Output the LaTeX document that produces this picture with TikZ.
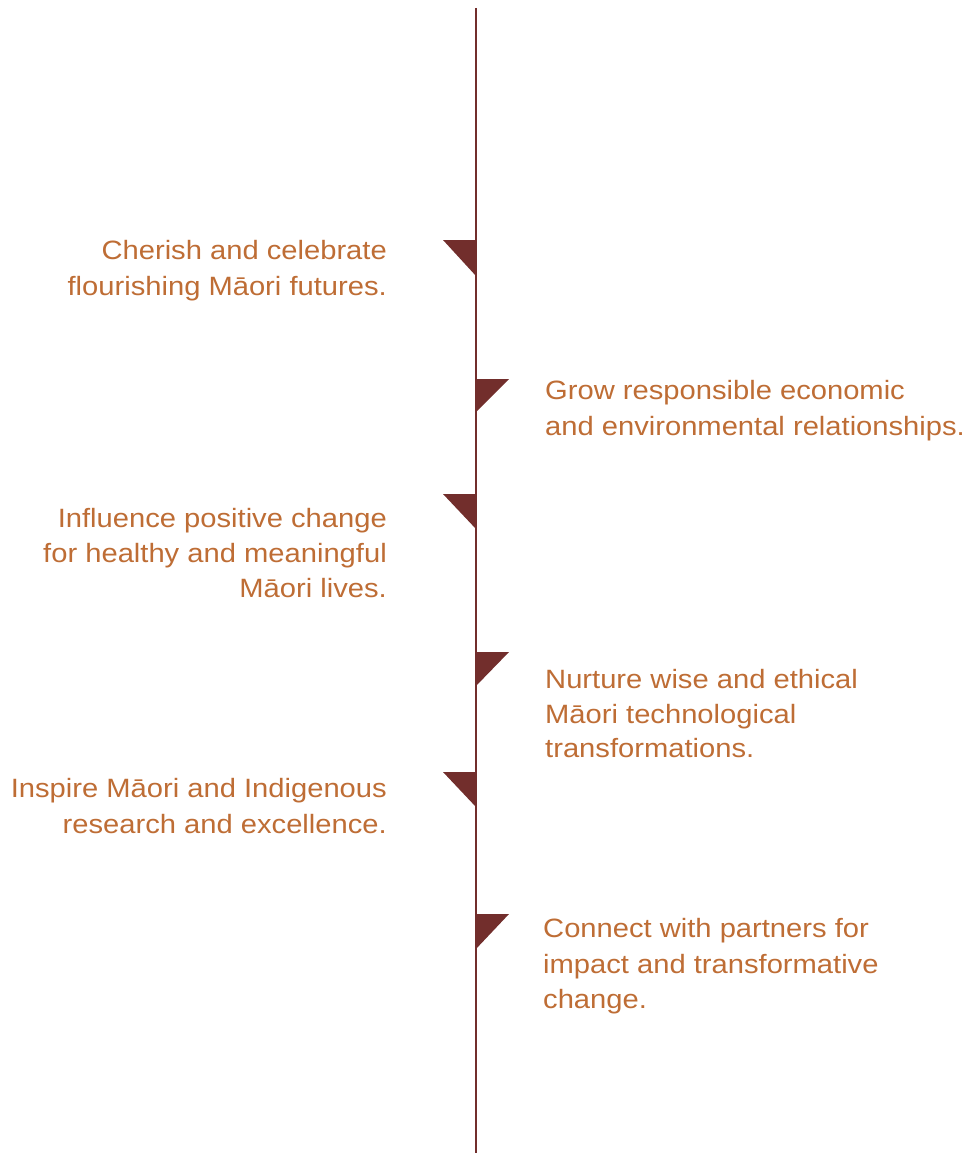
\documentclass[tikz,border=0pt]{standalone}
\usepackage{fontspec}
\setmainfont{Liberation Sans}[FakeStretch=1.1]
\definecolor{txtc}{HTML}{BE6D35}
\definecolor{linec}{HTML}{722E2C}
\begin{document}
\begin{tikzpicture}[x=1pt,y=-1pt,
  lbl/.style={inner sep=0pt,text=txtc,font=\fontsize{26.5}{35}\selectfont},
  lt/.style={lbl,anchor=base east},
  rt/.style={lbl,anchor=base west},
  flag/.style={fill=linec,draw=none},
  spine/.style={draw=linec,line width=2pt}]
\useasboundingbox (0,0) rectangle (969,1153);
\coordinate (top) at (475.5,8);
\coordinate (bot) at (475.5,1153);
\draw[spine] (top) -- (bot);
% flags
\fill[flag] (443,240) -- (476,240) -- (476,276) -- cycle;
\fill[flag] (475,379) -- (509,379) -- (475,413) -- cycle;
\fill[flag] (443,494) -- (476,494) -- (476,529) -- cycle;
\fill[flag] (475,652) -- (509,652) -- (475,687) -- cycle;
\fill[flag] (443,772) -- (476,772) -- (476,807) -- cycle;
\fill[flag] (475,914) -- (509,914) -- (475,950) -- cycle;
% left texts
\node[lt] (a1) at (387,259) {Cherish and celebrate};
\node[lt] (a2) at (387,295) {flourishing Māori futures.};
\node[lt] (c1) at (387,527) {Influence positive change};
\node[lt] (c2) at (387,562) {for healthy and meaningful};
\node[lt] (c3) at (387,597) {Māori lives.};
\node[lt] (e1) at (387,797) {Inspire Māori and Indigenous};
\node[lt] (e2) at (387,833) {research and excellence.};
% right texts
\node[rt] (b1) at (545,399) {Grow responsible economic};
\node[rt] (b2) at (545,435) {and environmental relationships.};
\node[rt] (d1) at (545,688) {Nurture wise and ethical};
\node[rt] (d2) at (545,723) {Māori technological};
\node[rt] (d3) at (545,757) {transformations.};
\node[rt] (f1) at (543,937) {Connect with partners for};
\node[rt] (f2) at (543,973) {impact and transformative};
\node[rt] (f3) at (543,1008) {change.};
\end{tikzpicture}
\end{document}
